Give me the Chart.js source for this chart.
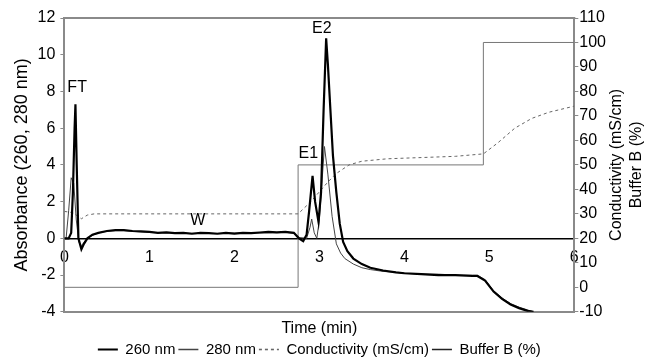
<!DOCTYPE html>
<html>
<head>
<meta charset="utf-8">
<script src="https://cdn.jsdelivr.net/npm/chart.js@4"></script>
<style>
  body { margin: 0; background: #fff; }
  #wrap { width: 650px; height: 363px; }
</style>
</head>
<body>
<div id="wrap"><canvas id="myChart"></canvas></div>
<script>
// Absorbance at 260 nm (time in min, absorbance)
const time260 = [0, 0.05, 0.08, 0.1, 0.12, 0.13, 0.145, 0.165, 0.2, 0.23, 0.27, 0.33, 0.4, 0.5, 0.6, 0.7, 0.8, 0.9, 1.0, 1.1, 1.2, 1.3, 1.4, 1.5, 1.6, 1.7, 1.8, 1.9, 2.0, 2.1, 2.2, 2.3, 2.4, 2.5, 2.6, 2.7, 2.76, 2.81, 2.85, 2.88, 2.92, 2.95, 2.99, 3.02, 3.05, 3.08, 3.1, 3.13, 3.16, 3.2, 3.24, 3.28, 3.33, 3.4, 3.5, 3.6, 3.75, 3.9, 4.0, 4.2, 4.4, 4.6, 4.8, 4.86, 4.95, 5.05, 5.15, 5.25, 5.35, 5.45, 5.52];
const abs260 = [0, 0, 0.3, 2.5, 6, 7.3, 4, 0, -0.6, -0.3, 0, 0.2, 0.3, 0.4, 0.45, 0.45, 0.4, 0.38, 0.35, 0.3, 0.32, 0.28, 0.3, 0.25, 0.3, 0.28, 0.25, 0.3, 0.26, 0.3, 0.28, 0.32, 0.35, 0.33, 0.35, 0.3, 0.0, -0.15, 0.2, 1.5, 3.4, 2.0, 0.9, 2.5, 7, 10.9, 9.5, 7, 4.5, 2.5, 0.8, -0.2, -0.7, -1.1, -1.4, -1.6, -1.75, -1.85, -1.9, -1.95, -2.0, -2.0, -2.05, -2.05, -2.3, -2.9, -3.3, -3.6, -3.8, -3.95, -4.0];

// Absorbance at 280 nm
const time280 = [0, 0.02, 0.05, 0.08, 0.11, 0.14, 0.17, 0.2, 0.25, 0.3, 0.4, 0.5, 0.6, 0.7, 0.8, 1.0, 1.2, 1.4, 1.6, 1.8, 2.0, 2.2, 2.4, 2.6, 2.7, 2.76, 2.85, 2.89, 2.91, 2.94, 2.97, 3.0, 3.03, 3.06, 3.1, 3.15, 3.2, 3.25, 3.3, 3.4, 3.5, 3.6, 3.75, 3.9, 4.0, 4.2, 4.4, 4.6, 4.8, 4.86, 4.95, 5.05, 5.15, 5.25, 5.35, 5.45, 5.52];
const abs280 = [0, 0, 1.5, 3.3, 3.0, 1.0, -0.2, -0.4, -0.1, 0.1, 0.3, 0.38, 0.42, 0.42, 0.38, 0.33, 0.3, 0.28, 0.27, 0.27, 0.28, 0.29, 0.3, 0.32, 0.28, 0.05, 0.0, 0.6, 1.05, 0.3, 0.0, 1.0, 3.0, 5.0, 3.5, 1.2, -0.3, -0.8, -1.1, -1.4, -1.6, -1.7, -1.8, -1.85, -1.9, -1.95, -1.95, -2.0, -2.0, -2.0, -2.25, -2.85, -3.25, -3.55, -3.75, -3.9, -4.0];

// Conductivity (mS/cm), right axis
const timeCond = [0, 0.1, 0.2, 0.27, 0.35, 1.0, 2.0, 2.75, 2.9, 3.0, 3.1, 3.2, 3.35, 3.5, 3.8, 4.2, 4.6, 4.93, 5.1, 5.3, 5.5, 5.7, 6.0];
const conductivity = [31, 30.5, 28, 29.5, 30, 30, 30, 30, 35, 39, 43, 46.5, 50, 51.5, 52.5, 53, 53.5, 54.5, 59, 65, 69, 71.5, 74];

// Buffer B (%), right axis
const timeBuffer = [0, 2.75, 2.75, 4.93, 4.93, 6];
const bufferB = [0, 0, 50, 50, 100, 100];

// Peak labels
const peakNames = ['FT', 'W', 'E1', 'E2'];
const peakTime = [0.15, 1.57, 2.87, 3.03];
const peakAbs = [8.2, 0.95, 4.6, 11.45];

const FONT = 'Liberation Sans, Arial, Helvetica, sans-serif';

function points(xs, ys) {
    return xs.map((x, i) => ({ x: x, y: ys[i] }));
}

// Frame top edge, peak labels and right axis title
const extras = {
    id: 'extras',
    afterDraw(chart) {
        const { ctx, chartArea, scales } = chart;
        ctx.save();
        ctx.strokeStyle = '#8a8a8a';
        ctx.lineWidth = 2;
        ctx.beginPath();
        ctx.moveTo(chartArea.left - 1, chartArea.top);
        ctx.lineTo(chartArea.right + 1, chartArea.top);
        ctx.stroke();

        ctx.fillStyle = '#000';
        ctx.font = '16px ' + FONT;
        ctx.textAlign = 'center';
        ctx.textBaseline = 'middle';
        for (let i = 0; i < peakNames.length; i++) {
            ctx.fillText(peakNames[i], scales.x.getPixelForValue(peakTime[i]), scales.y.getPixelForValue(peakAbs[i]));
        }

        const cy = (chartArea.top + chartArea.bottom) / 2;
        ctx.translate(617, cy);
        ctx.rotate(-Math.PI / 2);
        ctx.fillText('Conductivity (mS/cm)', 0, 0);
        ctx.fillText('Buffer B (%)', 0, 20);
        ctx.restore();
    }
};

const ctx = document.getElementById('myChart');
const myChart = new Chart(ctx, {
    type: 'line',
    data: {
        datasets: [{
            label: '260 nm',
            data: points(time260, abs260),
            borderColor: '#000',
            borderWidth: 2.2,
            yAxisID: 'y'
        }, {
            label: '280 nm',
            data: points(time280, abs280),
            borderColor: '#444',
            borderWidth: 1,
            yAxisID: 'y'
        }, {
            label: 'Conductivity (mS/cm)',
            data: points(timeCond, conductivity),
            borderColor: '#666',
            borderWidth: 1,
            borderDash: [3, 3],
            yAxisID: 'y2'
        }, {
            label: 'Buffer B (%)',
            data: points(timeBuffer, bufferB),
            borderColor: '#777',
            borderWidth: 1,
            yAxisID: 'y2'
        }]
    },
    options: {
        responsive: true,
        maintainAspectRatio: false,
        animation: false,
        elements: {
            point: { radius: 0 },
            line: { tension: 0 }
        },
        layout: {
            padding: { top: 18, right: 43, left: 11, bottom: -4 }
        },
        scales: {
            x: {
                type: 'linear',
                min: 0,
                max: 6,
                position: 'bottom',
                grid: { display: false, tickLength: 0 },
                border: { color: '#8a8a8a', width: 2 },
                ticks: { display: false },
                title: {
                    display: true,
                    text: 'Time (min)',
                    color: '#000',
                    font: { family: FONT, size: 16 },
                    padding: { top: 7, bottom: 1 }
                }
            },
            x2: {
                type: 'linear',
                min: 0,
                max: 6,
                position: { y: 0 },
                grid: { display: false },
                border: { color: '#000', width: 1.5 },
                ticks: {
                    stepSize: 1,
                    color: '#000',
                    padding: 2,
                    font: { family: FONT, size: 16 }
                }
            },
            y: {
                min: -4,
                max: 12,
                position: 'left',
                grid: { drawOnChartArea: false, tickLength: 4, color: '#8a8a8a' },
                border: { color: '#8a8a8a', width: 2 },
                ticks: {
                    stepSize: 2,
                    color: '#000',
                    padding: 5,
                    font: { family: FONT, size: 16 }
                },
                title: {
                    display: true,
                    text: 'Absorbance (260, 280 nm)',
                    color: '#000',
                    font: { family: FONT, size: 18 },
                    padding: { top: 0, bottom: 0 }
                }
            },
            y2: {
                min: -10,
                max: 110,
                position: 'right',
                grid: { drawOnChartArea: false, tickLength: 4, color: '#8a8a8a' },
                border: { color: '#8a8a8a', width: 2 },
                ticks: {
                    stepSize: 10,
                    color: '#000',
                    padding: 1,
                    font: { family: FONT, size: 16 }
                }
            }
        },
        plugins: {
            legend: {
                position: 'bottom',
                fullSize: false,
                labels: {
                    usePointStyle: true,
                    pointStyleWidth: 20,
                    color: '#000',
                    padding: 3,
                    font: { family: FONT, size: 15 },
                    // legend samples taken from each dataset's line style
                    generateLabels(chart) {
                        return chart.data.datasets.map((ds, i) => ({
                            text: ds.label,
                            datasetIndex: i,
                            pointStyle: 'line',
                            fillStyle: ds.borderColor,
                            strokeStyle: i === 3 ? '#222' : ds.borderColor,
                            lineWidth: i === 0 ? 2.2 : 1.6,
                            lineDash: ds.borderDash || [],
                            fontColor: '#000'
                        }));
                    }
                }
            },
            tooltip: { enabled: false }
        }
    },
    plugins: [extras]
});
</script>
</body>
</html>
